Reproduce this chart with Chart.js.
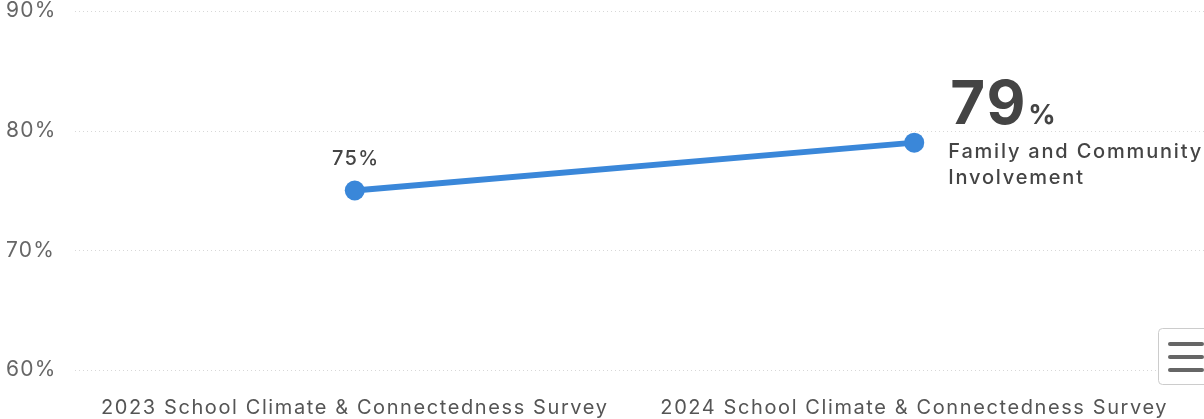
<!DOCTYPE html>
<html>
<head>
<meta charset="utf-8">
<script src="https://cdn.jsdelivr.net/npm/chart.js@4"></script>
<style>
html,body{margin:0;padding:0;background:#fff;overflow:hidden;}
#wrap{width:1204px;height:419px;position:relative;}
</style>
</head>
<body>
<div id="wrap"><canvas id="c" width="1204" height="419"></canvas></div>
<script>
const categories = ["2023 School Climate & Connectedness Survey", "2024 School Climate & Connectedness Survey"];
const seriesName = "Family and Community Involvement";
const values = [75, 79];
const yTicks = [60, 70, 80, 90];

const FONT = "Inter, sans-serif";

const spacingPlugin = {
  id: 'spacingPlugin',
  beforeDraw(chart) { chart.ctx.letterSpacing = '1.2px'; }
};

const gridPlugin = {
  id: 'gridPlugin',
  beforeDatasetsDraw(chart) {
    const ctx = chart.ctx, y = chart.scales.y;
    ctx.save();
    ctx.strokeStyle = '#d8d8d8';
    ctx.lineWidth = 1;
    ctx.setLineDash([1, 3]);
    yTicks.forEach(v => {
      const py = Math.round(y.getPixelForValue(v)) + 0.5;
      ctx.beginPath();
      ctx.moveTo(chart.chartArea.left, py);
      ctx.lineTo(chart.width, py);
      ctx.stroke();
    });
    ctx.restore();
  },
  beforeDraw(chart) {
    // wider letter spacing for x axis labels
  }
};

const labelPlugin = {
  id: 'labelPlugin',
  afterDatasetsDraw(chart) {
    const ctx = chart.ctx;
    const meta = chart.getDatasetMeta(0);
    ctx.save();
    ctx.letterSpacing = '1.3px';
    const p0 = meta.data[0];
    ctx.fillStyle = '#444';
    ctx.font = "500 20px " + FONT;
    ctx.textAlign = 'center';
    ctx.textBaseline = 'middle';
    ctx.fillText(values[0] + '%', p0.x + 1, p0.y - 32);
    const n = values.length - 1;
    const p = meta.data[n];
    const x0 = p.x + 34;
    ctx.textAlign = 'left';
    ctx.textBaseline = 'alphabetic';
    ctx.fillStyle = '#444';
    ctx.letterSpacing = '2px';
    ctx.font = "bold 60px " + FONT;
    const big = String(values[n]);
    ctx.fillText(big, x0 + 2, p.y - 19);
    ctx.letterSpacing = '0px';
    ctx.font = "bold 27px " + FONT;
    ctx.fillText('%', x0 + 80, p.y - 19);
    ctx.letterSpacing = '1.8px';
    ctx.font = "500 20px " + FONT;
    ctx.textBaseline = 'middle';
    const words = seriesName.split(' ');
    ctx.fillText(words.slice(0, 3).join(' '), x0, p.y + 9);
    ctx.fillText(words.slice(3).join(' '), x0, p.y + 35);
    ctx.letterSpacing = '0px';
    ctx.fillStyle = '#fff';
    ctx.strokeStyle = '#cccccc';
    ctx.lineWidth = 1;
    ctx.setLineDash([]);
    const bx = 1158.5, by = 328.5, bw = 60, bh = 56, r = 4;
    ctx.beginPath();
    ctx.moveTo(bx + r, by);
    ctx.lineTo(bx + bw - r, by);
    ctx.arcTo(bx + bw, by, bx + bw, by + r, r);
    ctx.lineTo(bx + bw, by + bh - r);
    ctx.arcTo(bx + bw, by + bh, bx + bw - r, by + bh, r);
    ctx.lineTo(bx + r, by + bh);
    ctx.arcTo(bx, by + bh, bx, by + bh - r, r);
    ctx.lineTo(bx, by + r);
    ctx.arcTo(bx, by, bx + r, by, r);
    ctx.closePath();
    ctx.fill();
    ctx.stroke();
    ctx.strokeStyle = '#666';
    ctx.lineWidth = 4;
    ctx.lineCap = 'round';
    [344, 357, 370].forEach(yy => {
      ctx.beginPath();
      ctx.moveTo(1170, yy);
      ctx.lineTo(1202, yy);
      ctx.stroke();
    });
    ctx.restore();
  }
};

new Chart(document.getElementById('c'), {
  type: 'line',
  data: {
    labels: categories,
    datasets: [{
      label: seriesName,
      data: values,
      borderColor: '#3a87d9',
      backgroundColor: '#3a87d9',
      borderWidth: 6,
      pointRadius: 10,
      pointHoverRadius: 10,
      pointBackgroundColor: '#3a87d9',
      pointBorderWidth: 0,
      tension: 0
    }]
  },
  options: {
    responsive: false,
    animation: false,
    devicePixelRatio: 1,
    layout: { padding: { top: 11, right: 7, left: 6, bottom: 0 } },
    plugins: { legend: { display: false }, tooltip: { enabled: false } },
    scales: {
      x: {
        offset: true,
        grid: { display: false, drawTicks: false },
        border: { display: false },
        afterFit(scale) { scale.height = 49; },
        beforeDraw(){},
        ticks: { color: '#555', font: { family: FONT, size: 20 }, padding: 26, maxRotation: 0, autoSkip: false }
      },
      y: {
        min: 60, max: 90,
        afterBuildTicks(scale) { scale.ticks = yTicks.map(v => ({ value: v })); },
        afterFit(scale) { scale.width = 69; scale.paddingTop = 0; scale.paddingBottom = 0; },
        grid: { display: false, drawTicks: false },
        border: { display: false },
        ticks: { color: '#666', font: { family: FONT, size: 21 }, crossAlign: 'far', padding: 0,
          callback: v => v + '%' }
      }
    }
  },
  plugins: [spacingPlugin, gridPlugin, labelPlugin, {
    id: 'xSpacing',
    beforeDraw(chart) {
      const xs = chart.scales.x;
      const orig = xs.drawLabels.bind(xs);
      if (!xs._patched) {
        xs._patched = true;
        xs.drawLabels = function(area) {
          const ctx = chart.ctx;
          const prev = ctx.letterSpacing;
          ctx.letterSpacing = '1.6px';
          orig(area);
          ctx.letterSpacing = prev;
        };
      }
    }
  }]
});
</script>
</body>
</html>
